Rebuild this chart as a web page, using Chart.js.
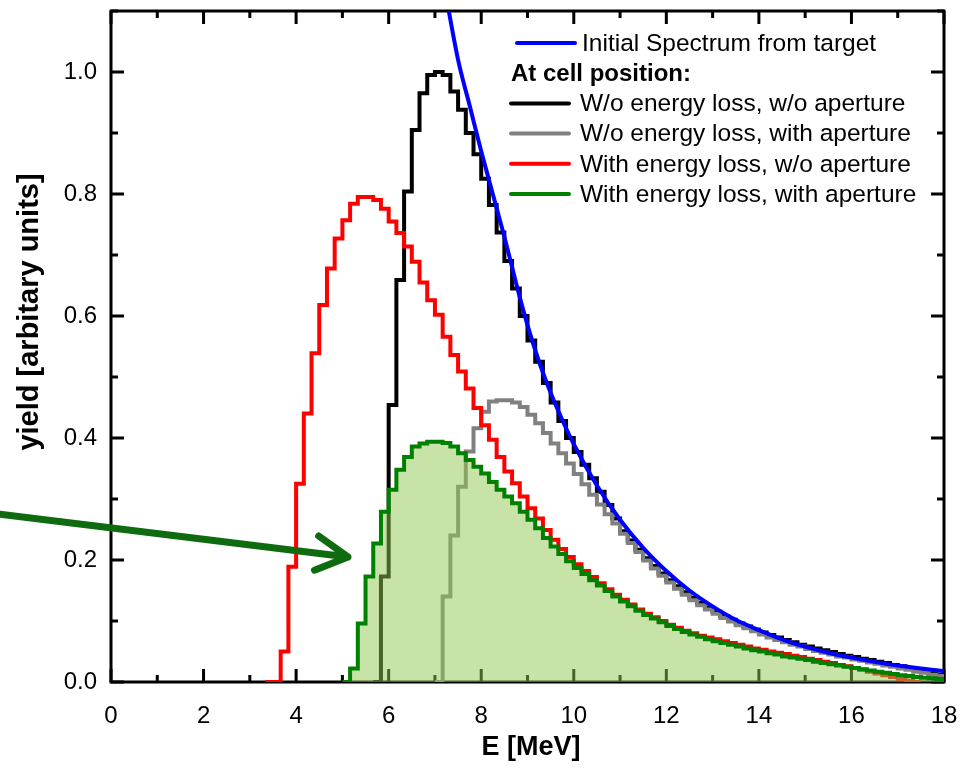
<!DOCTYPE html>
<html lang="en">
<head>
<meta charset="UTF-8">
<title>Spectrum at cell position</title>
<script src="https://cdn.jsdelivr.net/npm/chart.js"></script>
<style>
  html, body { margin: 0; padding: 0; background: #fff; }
  #caixa { width: 961px; height: 771px; }
</style>
</head>
<body>
<div id="caixa"><canvas id="grafico" width="961" height="771"></canvas></div>
<script>
// histogram bins are 1/6 MeV wide
const binWidth = 1 / 6

const xTickValues = [0, 2, 4, 6, 8, 10, 12, 14, 16, 18]
const yTickValues = [0, 0.2, 0.4, 0.6, 0.8, 1.0]

// initial spectrum from target (smooth curve)
const blueEnergy = [7.25, 7.5, 7.75, 8.0, 8.25, 8.5, 8.75, 9.0, 9.25, 9.5, 9.75, 10.0, 10.5, 11.0, 11.5, 12.0,
  12.5, 13.0, 13.5, 14.0, 14.5, 15.0, 15.5, 16.0, 16.5, 17.0, 17.5, 18.0]
const blueYield = [1.12, 1.02, 0.945, 0.87, 0.8, 0.73, 0.655, 0.585, 0.525, 0.474, 0.43, 0.39, 0.322, 0.266, 0.22, 0.182,
  0.15, 0.124, 0.102, 0.085, 0.07, 0.058, 0.048, 0.04, 0.033, 0.027, 0.022, 0.018]

// W/o energy loss, w/o aperture
const blackFirstBin = 34
const blackYield = [0, 0.173, 0.454, 0.659, 0.804, 0.905, 0.965, 0.995, 1.0, 0.995, 0.968, 0.938, 0.9, 0.865,
  0.825, 0.782, 0.737, 0.69, 0.645, 0.6, 0.56, 0.525, 0.49, 0.458, 0.428, 0.4, 0.377, 0.356, 0.334, 0.312,
  0.29, 0.268, 0.247, 0.232, 0.217, 0.203, 0.19, 0.178, 0.167, 0.157, 0.147, 0.138, 0.13, 0.122, 0.115,
  0.108, 0.102, 0.096, 0.091, 0.086, 0.081, 0.077, 0.073, 0.069, 0.065, 0.061, 0.058, 0.055, 0.052, 0.049,
  0.046, 0.043, 0.041, 0.038, 0.036, 0.033, 0.031, 0.028, 0.026, 0.023, 0.02, 0.017, 0.014, 0.012]

// W/o energy loss, with aperture
const grayFirstBin = 42
const grayYield = [0, 0.14, 0.24, 0.32, 0.378, 0.416, 0.443, 0.46, 0.462, 0.462, 0.458, 0.451, 0.438, 0.424,
  0.408, 0.391, 0.375, 0.358, 0.341, 0.324, 0.307, 0.291, 0.275, 0.26, 0.243, 0.228, 0.213, 0.199, 0.186,
  0.174, 0.163, 0.153, 0.143, 0.134, 0.126, 0.119, 0.112, 0.105, 0.099, 0.093, 0.088, 0.083, 0.078, 0.073,
  0.069, 0.065, 0.061, 0.058, 0.054, 0.051, 0.048, 0.045, 0.042, 0.04, 0.037, 0.035, 0.032, 0.03, 0.027,
  0.025, 0.022, 0.02, 0.017, 0.015, 0.012, 0.01]

// With energy loss, w/o aperture
const redFirstBin = 20
const redYield = [0, 0, 0.05, 0.189, 0.325, 0.44, 0.539, 0.618, 0.678, 0.727, 0.757, 0.784, 0.795, 0.795, 0.79,
  0.776, 0.755, 0.736, 0.714, 0.689, 0.655, 0.626, 0.602, 0.566, 0.536, 0.509, 0.481, 0.449, 0.421, 0.397,
  0.369, 0.345, 0.326, 0.304, 0.285, 0.268, 0.249, 0.233, 0.218, 0.205, 0.193, 0.182, 0.172, 0.162, 0.152,
  0.143, 0.135, 0.127, 0.119, 0.112, 0.106, 0.1, 0.094, 0.089, 0.084, 0.08, 0.076, 0.073, 0.07, 0.067,
  0.064, 0.061, 0.058, 0.055, 0.053, 0.05, 0.048, 0.046, 0.043, 0.041, 0.038, 0.036, 0.033, 0.031, 0.028,
  0.026, 0.023, 0.02, 0.017, 0.014, 0.011, 0.008, 0.005, 0.002, 0]

// With energy loss, with aperture
const greenFirstBin = 30
const greenYield = [0, 0.022, 0.096, 0.173, 0.227, 0.279, 0.315, 0.348, 0.369, 0.386, 0.391, 0.394, 0.394,
  0.392, 0.386, 0.375, 0.364, 0.353, 0.342, 0.328, 0.315, 0.304, 0.293, 0.279, 0.266, 0.252, 0.236, 0.222,
  0.21, 0.198, 0.187, 0.177, 0.167, 0.158, 0.149, 0.14, 0.132, 0.124, 0.117, 0.11, 0.104, 0.098, 0.092,
  0.087, 0.082, 0.078, 0.074, 0.07, 0.067, 0.064, 0.061, 0.058, 0.055, 0.052, 0.05, 0.047, 0.045, 0.042,
  0.04, 0.038, 0.036, 0.033, 0.031, 0.029, 0.027, 0.025, 0.023, 0.021, 0.019, 0.017, 0.015, 0.013, 0.011,
  0.01, 0.008, 0.007, 0.006, 0.005]

// arrow pointing at the green curve, in data units (tail starts left of the axis)
const arrowFrom = { x: -2.4, y: 0.275 }
const arrowTo = { x: 5.12, y: 0.205 }

const legendRows = [
  { text: 'Initial Spectrum from target', color: '#0000ff' },
  { text: 'At cell position:', color: null },
  { text: 'W/o energy loss, w/o aperture', color: '#000000' },
  { text: 'W/o energy loss, with aperture', color: '#808080' },
  { text: 'With energy loss, w/o aperture', color: '#ff0000' },
  { text: 'With energy loss, with aperture', color: '#008000' }
]

function histogramPoints(firstBin, values) {
  let pts = values.map(function (v, i) {
    return { x: (firstBin + i) * binWidth, y: v }
  })
  pts.push({ x: (firstBin + values.length) * binWidth, y: values[values.length - 1] })
  return pts
}

const fonte = '"Liberation Sans", Arial, sans-serif'
Chart.defaults.color = '#000'
Chart.defaults.font.family = fonte

// inner ticks on all four sides (drawn under the data, like the original)
const innerTicks = {
  id: 'innerTicks',
  beforeDatasetsDraw(chart) {
    const { ctx, chartArea: a, scales } = chart
    ctx.save()
    ctx.strokeStyle = '#000'
    ctx.lineWidth = 3
    ctx.beginPath()
    for (let e = 0; e <= 18; e++) {
      const px = scales.x.getPixelForValue(e)
      const len = e % 2 === 0 ? 13 : 7
      ctx.moveTo(px, a.bottom); ctx.lineTo(px, a.bottom - len)
      ctx.moveTo(px, a.top); ctx.lineTo(px, a.top + len)
    }
    for (let i = 0; i <= 11; i++) {
      const py = scales.y.getPixelForValue(i / 10)
      const len = i % 2 === 0 ? 13 : 7
      ctx.moveTo(a.left, py); ctx.lineTo(a.left + len, py)
      ctx.moveTo(a.right, py); ctx.lineTo(a.right - len, py)
    }
    ctx.stroke()
    ctx.strokeRect(a.left, a.top, a.right - a.left, a.bottom - a.top)
    ctx.restore()
  }
}

const extras = {
  id: 'extras',
  afterDatasetsDraw(chart) {
    const { ctx, scales } = chart
    ctx.save()

    // legend
    let y0 = 43
    legendRows.forEach(function (row, i) {
      const yy = y0 + i * 30.2
      ctx.textBaseline = 'middle'
      if (row.color === null) {
        ctx.font = 'bold 24px ' + fonte
        ctx.fillStyle = '#000'
        ctx.fillText(row.text, 511, yy + 1)
        return
      }
      ctx.strokeStyle = row.color
      ctx.lineWidth = 4
      ctx.lineCap = 'round'
      ctx.beginPath()
      const x1 = i === 0 ? 517 : 511
      ctx.moveTo(x1, yy); ctx.lineTo(x1 + 58, yy)
      ctx.stroke()
      ctx.font = '24.5px ' + fonte
      ctx.fillStyle = '#000'
      ctx.fillText(row.text, i === 0 ? 582 : 580, yy + 1)
    })

    // arrow
    const x1 = scales.x.getPixelForValue(arrowFrom.x)
    const y1 = scales.y.getPixelForValue(arrowFrom.y)
    const x2 = scales.x.getPixelForValue(arrowTo.x)
    const y2 = scales.y.getPixelForValue(arrowTo.y)
    const ang = Math.atan2(y2 - y1, x2 - x1)
    ctx.strokeStyle = '#0f6b0f'
    ctx.lineWidth = 7
    ctx.lineCap = 'round'
    ctx.lineJoin = 'round'
    ctx.beginPath()
    ctx.moveTo(x1, y1); ctx.lineTo(x2, y2)
    ctx.moveTo(x2 - 36 * Math.cos(ang - 0.5), y2 - 36 * Math.sin(ang - 0.5))
    ctx.lineTo(x2, y2)
    ctx.lineTo(x2 - 36 * Math.cos(ang + 0.5), y2 - 36 * Math.sin(ang + 0.5))
    ctx.stroke()

    // axis titles
    ctx.fillStyle = '#000'
    ctx.font = 'bold 27px ' + fonte
    ctx.textAlign = 'center'
    ctx.textBaseline = 'middle'
    ctx.fillText('E [MeV]', 531, 748)
    ctx.font = 'bold 29px ' + fonte
    ctx.translate(30, 312)
    ctx.rotate(-Math.PI / 2)
    ctx.fillText('yield [arbitary units]', 0, 0)
    ctx.restore()
  }
}

const lineBase = { pointRadius: 0, borderWidth: 4, fill: false, stepped: 'before' }

new Chart(document.getElementById('grafico'), {
  type: 'line',
  data: {
    datasets: [
      {
        label: 'Initial Spectrum from target',
        data: blueEnergy.map(function (e, i) { return { x: e, y: blueYield[i] } }),
        borderColor: '#0000ff', borderWidth: 4, pointRadius: 0, fill: false,
        cubicInterpolationMode: 'monotone', order: 0
      },
      Object.assign({}, lineBase, {
        label: 'With energy loss, with aperture',
        data: histogramPoints(greenFirstBin, greenYield),
        borderColor: '#008000', fill: 'origin', backgroundColor: 'rgba(146, 200, 80, 0.5)', order: 1
      }),
      Object.assign({}, lineBase, {
        label: 'With energy loss, w/o aperture',
        data: histogramPoints(redFirstBin, redYield),
        borderColor: '#ff0000', order: 2
      }),
      Object.assign({}, lineBase, {
        label: 'W/o energy loss, with aperture',
        data: histogramPoints(grayFirstBin, grayYield),
        borderColor: '#808080', order: 3
      }),
      Object.assign({}, lineBase, {
        label: 'W/o energy loss, w/o aperture',
        data: histogramPoints(blackFirstBin, blackYield),
        borderColor: '#000000', order: 4
      })
    ]
  },
  options: {
    responsive: false,
    animation: false,
    layout: { autoPadding: false, padding: { top: 11, right: 17, left: 0, bottom: 0 } },
    plugins: { legend: { display: false }, tooltip: { enabled: false } },
    scales: {
      x: {
        type: 'linear', min: 0, max: 18,
        grid: { display: false, drawTicks: false },
        border: { display: false },
        ticks: { font: { size: 24 }, padding: 20, maxRotation: 0, autoSkip: false },
        afterBuildTicks: function (s) { s.ticks = xTickValues.map(function (v) { return { value: v } }) },
        afterFit: function (s) {
          s.height = 89
          s.paddingLeft = 0; s.paddingRight = 0; s.paddingTop = 0; s.paddingBottom = 0
        }
      },
      y: {
        type: 'linear', min: 0, max: 1.1,
        grid: { display: false, drawTicks: false },
        border: { display: false },
        ticks: {
          font: { size: 24 }, padding: 14, autoSkip: false,
          callback: function (v) { return v.toFixed(1) }
        },
        afterBuildTicks: function (s) { s.ticks = yTickValues.map(function (v) { return { value: v } }) },
        afterFit: function (s) {
          s.width = 111
          s.paddingLeft = 0; s.paddingRight = 0; s.paddingTop = 0; s.paddingBottom = 0
        }
      }
    }
  },
  plugins: [innerTicks, extras]
})
</script>
</body>
</html>
